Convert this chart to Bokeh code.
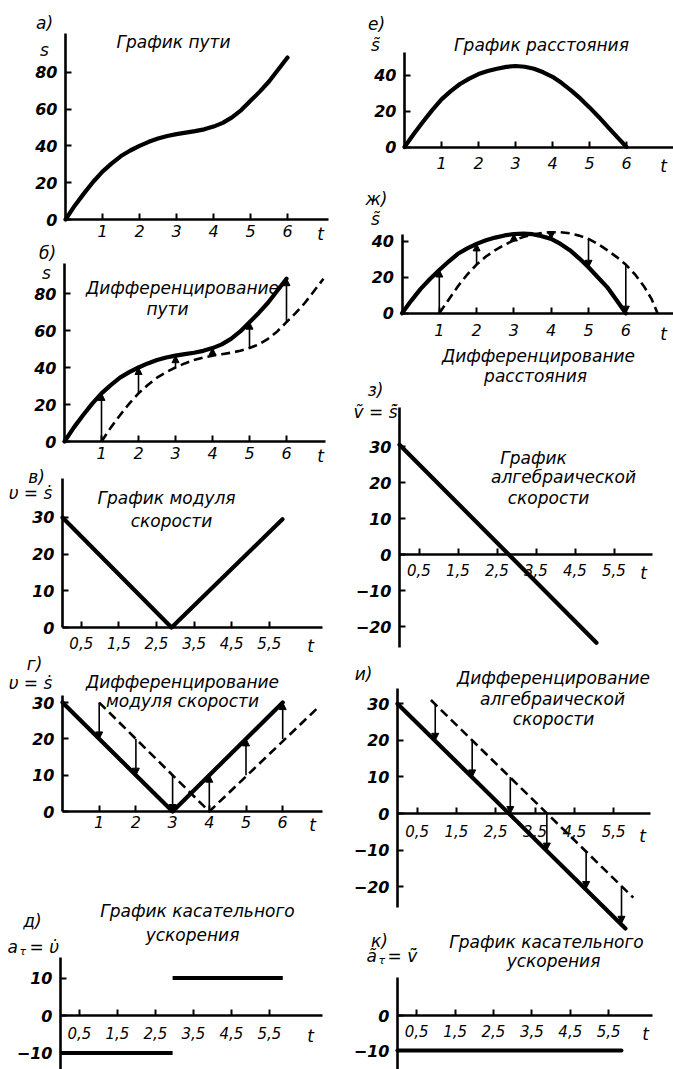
from bokeh.plotting import figure
from bokeh.layouts import row, column
from bokeh.models import (ColumnDataSource, Arrow, NormalHead, FixedTicker,
                          CustomJSTickFormatter, Label, Range1d)
from bokeh.embed import file_html
from bokeh.resources import INLINE

# ---------------- data ----------------
# а) path s(t)
t_path = [0, 0.25, 0.5, 0.75, 1, 1.25, 1.5, 1.75, 2, 2.25, 2.5, 2.75, 3,
          3.25, 3.5, 3.75, 4, 4.25, 4.5, 4.75, 5, 5.25, 5.5, 5.75, 6]
s_path = [0, 7.5, 14.2, 20.5, 26, 30.5, 34.5, 37.5, 40, 42.2, 44, 45.4, 46.4,
          47.2, 48, 49, 50.5, 52.5, 55.5, 59.5, 64.5, 69.5, 75, 81.5, 88]
# б) the same path one second later (dashed)
t_path_late = [1, 1.25, 1.5, 1.75, 2, 2.25, 2.5, 2.75, 3, 3.25, 3.5, 3.75, 4,
               4.25, 4.5, 4.75, 5, 5.25, 5.5, 5.75, 6, 6.25, 6.5, 6.75, 7]
s_path_late = [0, 7.5, 14.2, 20.5, 26, 30.5, 34.5, 37.5, 40, 42.2, 44, 45.4, 46.4,
               47.2, 48, 49, 50.5, 52.5, 55.5, 59.5, 64.5, 69.5, 75, 81.5, 88]
arr_b_t = [1, 2, 3, 4, 5, 6]
arr_b_from = [0, 26, 40, 46.4, 50.5, 64.5]
arr_b_to = [26, 40, 46.4, 50.5, 64.5, 88]

# в) speed modulus
t_speed = [0, 2.9, 5.85]
v_speed = [30, 0, 29.5]

# г) speed modulus and its shifted copy
t_mod = [0, 3, 6]
v_mod = [30, 0, 30]
t_mod_late = [1, 4, 7]
v_mod_late = [30, 0, 29]
arr_g_t = [1, 2, 3, 4, 5, 6]
arr_g_from = [30, 20, 10, 0, 10, 20]
arr_g_to = [20, 10, 0, 10, 20, 30]

# д) tangential acceleration (piecewise constant)
acc_t0 = [0, 2.95]
acc_t1 = [2.95, 5.85]
acc_val = [-10, 10]

# е) distance s~(t)
t_dist = [0, 0.25, 0.5, 0.75, 1, 1.25, 1.5, 1.75, 2, 2.25, 2.5, 2.75, 3,
          3.25, 3.5, 3.75, 4, 4.25, 4.5, 4.75, 5, 5.25, 5.5, 5.75, 6]
s_dist = [0, 7.2, 14, 20.5, 26.5, 31, 35, 38, 40.5, 42.2, 43.5, 44.5, 45,
          44.6, 43.5, 41.5, 39, 35.5, 31.5, 27, 22, 16.7, 11, 5.5, 0]

# ж) distance and its shifted copy
t_dist2 = [0, 0.25, 0.5, 0.75, 1, 1.25, 1.5, 1.75, 2, 2.25, 2.5, 2.75, 3,
           3.25, 3.5, 3.75, 4, 4.25, 4.5, 4.75, 5, 5.25, 5.5, 5.75, 6]
s_dist2 = [0, 7, 13.5, 19, 24, 28.7, 33, 36, 38.5, 40.5, 42, 43.2, 44,
           44.2, 43.9, 42.8, 41.3, 38.5, 35, 30.5, 25.5, 20, 14.5, 7.3, 0]
t_dist_late = [1, 1.25, 1.5, 1.75, 2, 2.25, 2.5, 2.75, 3, 3.25, 3.5, 3.75, 4,
               4.25, 4.5, 4.75, 5, 5.25, 5.5, 5.75, 6, 6.25, 6.5, 6.7, 6.85]
s_dist_late = [0, 7.5, 15, 21.5, 27, 31.5, 35, 38, 40.5, 42.3, 43.7, 44.6, 45,
               45, 44.4, 43.1, 41.3, 38.5, 35, 31.3, 27, 21.5, 14.5, 7.5, 0]
arr_zh_t = [1, 2, 3, 4, 5, 6]
arr_zh_from = [0, 27, 40.5, 45, 41.3, 27]
arr_zh_to = [24, 38.5, 44, 41.3, 25.5, 0]

# з) algebraic speed
t_alg = [0, 5.05]
v_alg = [30.5, -24.5]

# и) algebraic speed and its shifted copy
t_alg2 = [0, 5.8]
v_alg2 = [30, -31.4]
t_alg_late = [0.85, 6.0]
v_alg_late = [31, -23]
arr_i_t = [0.96, 1.9, 2.87, 3.8, 4.8, 5.7]
arr_i_from = [30, 20, 10, 0, -10.5, -20]
arr_i_to = [20, 10, 0, -10, -20.5, -30]

# к) tangential acceleration of the algebraic speed
t_acc2 = [0, 5.83]
a_acc2 = [-10, -10]

ticks_int = [1, 2, 3, 4, 5, 6]
ticks_half = [0.5, 1.5, 2.5, 3.5, 4.5, 5.5]

# ---------------- styling helpers ----------------
FONT = "DejaVu Sans"
INK = "black"
HALF_FMT = CustomJSTickFormatter(code="return tick.toFixed(1).replace('.', ',');")


class Panel:
    """A figure whose data origin sits at page pixel (ox, oy)."""

    def __init__(self, left, width, top, bottom, ox, ux, oy, uy,
                 x_end_px, y_top_px, y_bot_px, xticks, yticks,
                 xlab_py, half=False):
        self.ox, self.ux, self.oy, self.uy = ox, ux, oy, uy
        p = figure(width=width, height=bottom - top, title=None,
                   toolbar_location=None, output_backend="svg",
                   x_range=Range1d((left - ox) / ux, (left + width - ox) / ux),
                   y_range=Range1d((oy - bottom) / uy, (oy - top) / uy),
                   min_border=0, outline_line_color=None,
                   background_fill_color="white", border_fill_color="white")
        p.grid.visible = False
        xa, ya = p.xaxis[0], p.yaxis[0]
        xa.fixed_location = 0
        ya.fixed_location = 0
        xa.bounds = (0, self.X(x_end_px))
        ya.bounds = (self.Y(y_bot_px), self.Y(y_top_px))
        for ax in (xa, ya):
            ax.axis_line_width = 2.6
            ax.axis_line_color = INK
            ax.major_tick_line_width = 2
            ax.major_tick_line_color = INK
            ax.major_tick_in = 6
            ax.major_tick_out = 0
            ax.minor_tick_in = 0
            ax.minor_tick_out = 0
            ax.major_label_text_font = FONT
            ax.major_label_text_color = INK
            ax.major_label_text_font_style = "italic"
        xa.ticker = FixedTicker(ticks=xticks)
        ya.ticker = FixedTicker(ticks=yticks)
        if half:
            xa.formatter = HALF_FMT
            xa.major_label_text_font_size = "15px"
        else:
            xa.major_label_text_font_size = "16px"
        xa.major_label_standoff = int(round(xlab_py - oy - 9))
        ya.major_label_text_font_size = "16px"
        ya.major_label_text_font_style = "bold italic"
        ya.major_label_standoff = 8
        self.fig = p

    def X(self, px):
        return (px - self.ox) / self.ux

    def Y(self, py):
        return (self.oy - py) / self.uy

    def note(self, text, px, py, size=17, style="italic", align="center"):
        self.fig.add_layout(Label(x=self.X(px), y=self.Y(py), text=text,
                                  text_font=FONT, text_font_size=f"{size}px",
                                  text_font_style=style, text_align=align,
                                  text_baseline="middle", text_color=INK))

    def solid(self, xs, ys):
        self.fig.line(xs, ys, line_width=4.2, line_color=INK, line_cap="round",
                      line_join="round")

    def dashed(self, xs, ys):
        self.fig.line(xs, ys, line_width=2.6, line_color=INK, line_dash="9 5")

    def arrows(self, ts, y0, y1):
        src = ColumnDataSource(dict(t=ts, y0=y0, y1=y1))
        self.fig.add_layout(Arrow(end=NormalHead(size=7, fill_color=INK,
                                                 line_color=INK, line_width=1),
                                  x_start="t", y_start="y0", x_end="t",
                                  y_end="y1", source=src, line_width=1.6,
                                  line_color=INK))


LW, RW = 336, 337

# ---------------- left column ----------------
pa = Panel(0, LW, 0, 242, 65, 37, 219, 1.84, 328, 33, 219,
           ticks_int, [0, 20, 40, 60, 80], 233)
pa.solid(t_path, s_path)
pa.note("а)", 44, 22)
pa.note("s", 44, 49)
pa.note("График пути", 173, 41)
pa.note("t", 320, 233)

pb = Panel(0, LW, 242, 467, 64, 37, 441, 1.85, 325, 263, 441,
           ticks_int, [0, 20, 40, 60, 80], 455)
pb.solid(t_path, s_path)
pb.dashed(t_path_late, s_path_late)
pb.arrows(arr_b_t, arr_b_from, arr_b_to)
pb.note("б)", 47, 252)
pb.note("s", 46, 272)
pb.note("Дифференцирование", 182, 287)
pb.note("пути", 167, 308)
pb.note("t", 320, 455)

pv = Panel(0, LW, 467, 654, 62, 37.6, 627, 3.667, 322, 478, 627,
           ticks_half, [0, 10, 20, 30], 645, half=True)
pv.solid(t_speed, v_speed)
pv.note("в)", 36, 476)
pv.note("υ = ṡ", 30, 492)
pv.note("График модуля", 166, 497)
pv.note("скорости", 171, 520)
pv.note("t", 310, 645)

pg = Panel(0, LW, 654, 860, 62, 36.7, 811, 3.63, 322, 695, 811,
           ticks_int, [0, 10, 20, 30], 824)
pg.solid(t_mod, v_mod)
pg.dashed(t_mod_late, v_mod_late)
pg.arrows(arr_g_t, arr_g_from, arr_g_to)
pg.note("г)", 34, 663)
pg.note("υ = ṡ", 30, 682)
pg.note("Дифференцирование", 182, 681)
pg.note("модуля скорости", 182, 700)
pg.note("t", 312, 824)

pd = Panel(0, LW, 860, 1069, 60, 38, 1015, 3.75, 322, 957, 1069,
           ticks_half, [-10, 0, 10], 1035, half=True)
pd.fig.segment(acc_t0, acc_val, acc_t1, acc_val, line_width=4.2, line_color=INK)
pd.note("д)", 32, 920)
pd.note("График касательного", 197, 910)
pd.note("ускорения", 192, 934)
pd.note("a", 7, 946, align="left")
pd.note("τ", 19, 951, size=11, align="left")
pd.note("= υ̇", 29, 946, align="left")
pd.note("t", 310, 1035)

# ---------------- right column ----------------
pe = Panel(LW, RW, 0, 180, 404, 37, 146.5, 1.8, 673, 52, 146.5,
           ticks_int, [0, 20, 40], 165)
pe.solid(t_dist, s_dist)
pe.note("е)", 376, 23)
pe.note("s̃", 375, 44)
pe.note("График расстояния", 541, 44)
pe.note("t", 663, 165)

pzh = Panel(LW, RW, 180, 343, 401.5, 37.3, 312.7, 1.8, 673, 234, 312.7,
            ticks_int, [0, 20, 40], 333)
pzh.solid(t_dist2, s_dist2)
pzh.dashed(t_dist_late, s_dist_late)
pzh.arrows(arr_zh_t, arr_zh_from, arr_zh_to)
pzh.note("ж)", 376, 198)
pzh.note("s̃", 375, 218)
pzh.note("t", 663, 333)

pz = Panel(LW, RW, 343, 660, 399, 39, 554, 3.6, 652, 407, 647,
           ticks_half, [-20, -10, 0, 10, 20, 30], 572, half=True)
pz.solid(t_alg, v_alg)
pz.note("Дифференцирование", 538, 355)
pz.note("расстояния", 535, 375)
pz.note("з)", 375, 389)
pz.note("ṽ = s̃̇", 375, 411)
pz.note("График", 533, 457)
pz.note("алгебраической", 563, 476)
pz.note("скорости", 548, 497)
pz.note("t", 643, 572)

pi = Panel(LW, RW, 660, 931, 397, 39.3, 813, 3.66, 650, 688, 907,
           ticks_half, [-20, -10, 0, 10, 20, 30], 833, half=True)
pi.solid(t_alg2, v_alg2)
pi.dashed(t_alg_late, v_alg_late)
pi.arrows(arr_i_t, arr_i_from, arr_i_to)
pi.note("и)", 363, 673)
pi.note("Дифференцирование", 553, 677)
pi.note("алгебраической", 552, 698)
pi.note("скорости", 553, 718)
pi.note("t", 642, 835)

pk = Panel(LW, RW, 931, 1069, 397, 38.4, 1015, 3.5, 652, 977, 1069,
           ticks_half, [-10, 0], 1033, half=True)
pk.solid(t_acc2, a_acc2)
pk.note("к)", 379, 940)
pk.note("График касательного", 546, 941)
pk.note("ускорения", 553, 960)
pk.note("ã", 366, 955, align="left")
pk.note("τ", 378, 960, size=11, align="left")
pk.note("= ṽ̇", 387, 955, align="left")
pk.note("t", 645, 1033)

layout = row(column(pa.fig, pb.fig, pv.fig, pg.fig, pd.fig),
             column(pe.fig, pzh.fig, pz.fig, pi.fig, pk.fig))

with open("out.html", "w") as f:
    f.write(file_html(layout, INLINE))
